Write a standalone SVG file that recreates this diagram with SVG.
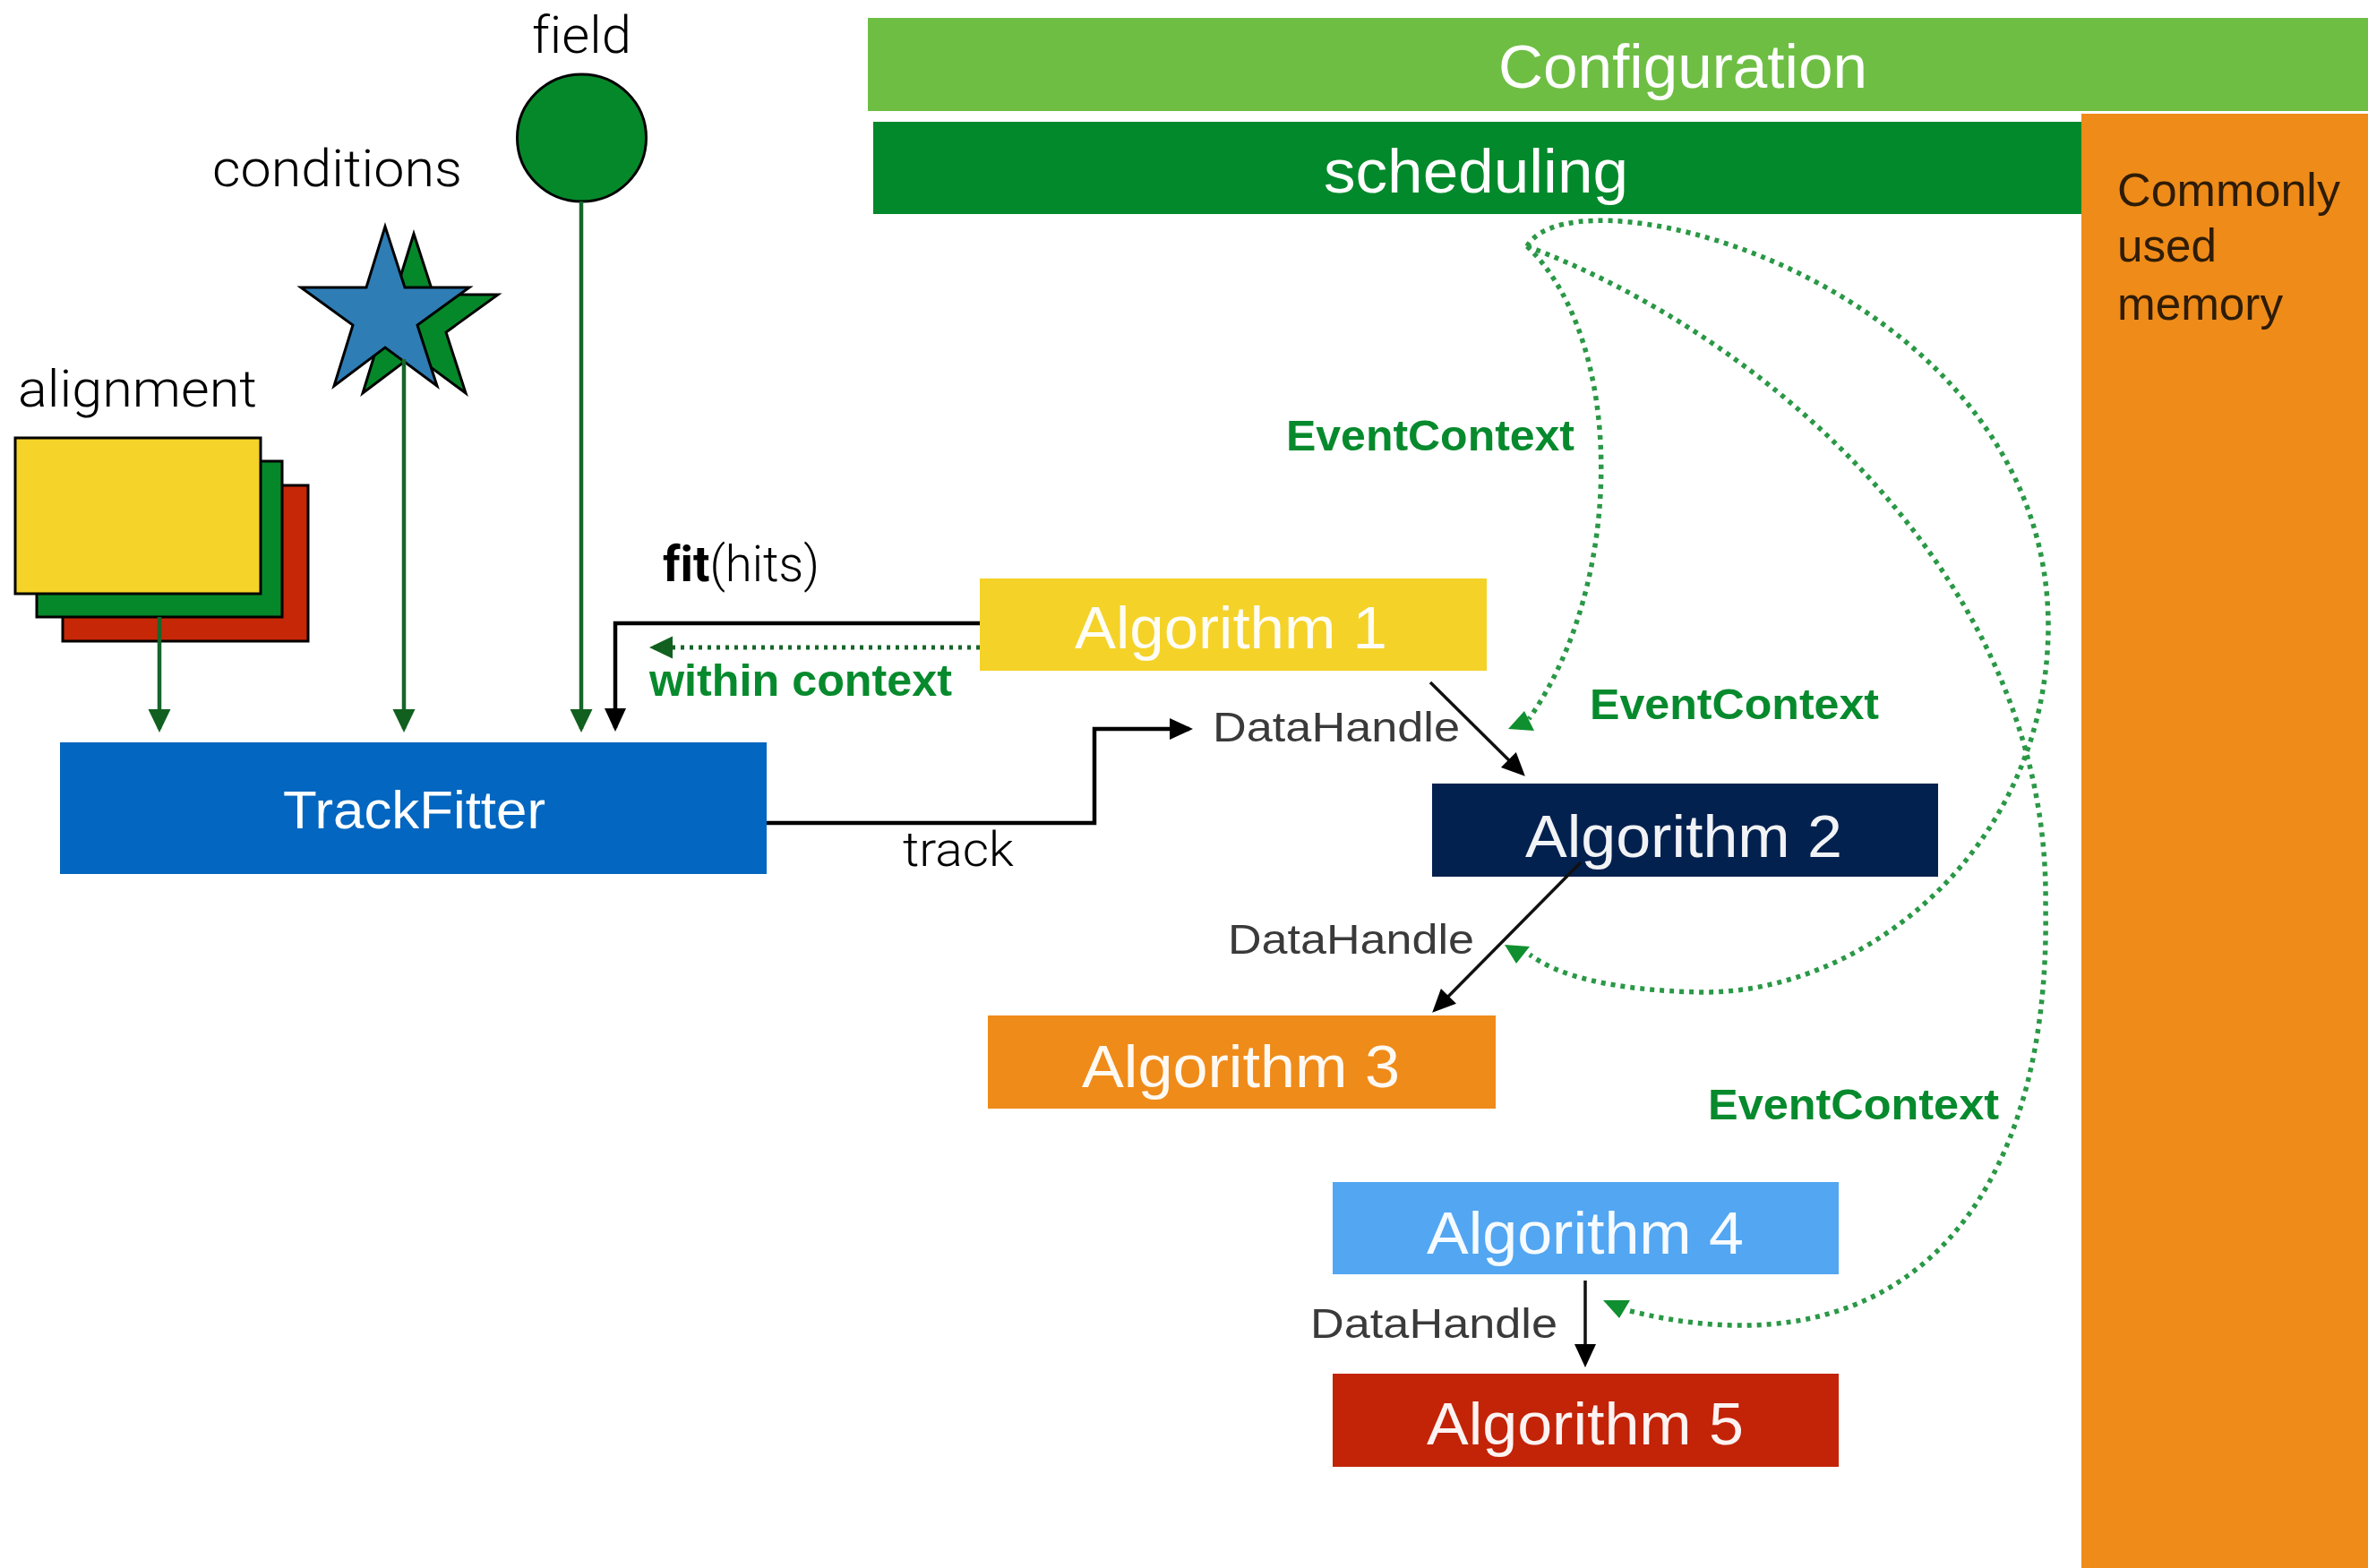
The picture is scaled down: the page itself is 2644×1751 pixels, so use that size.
<svg xmlns="http://www.w3.org/2000/svg" width="2644" height="1751" viewBox="0 0 2644 1751">
<style>
text{font-variant-ligatures:none}
.lt{font-family:Roboto,"Liberation Sans",sans-serif;font-weight:300;fill:#000}
.box{font-family:"Liberation Sans",Arial,sans-serif;fill:#fff}
.ec{font-family:"Liberation Sans",Arial,sans-serif;font-weight:bold;fill:#078A2D}
.dh{font-family:"Liberation Sans",Arial,sans-serif;fill:#3a3a3a;font-size:46px}
.alg{font-size:66px;fill:#fff;fill-opacity:0.95}
.gl{stroke:#17662A;stroke-width:4.5;fill:none}
.bl{stroke:#000;stroke-width:4.5;fill:none}
.bd{stroke:#111;stroke-width:3.5;fill:none}
.dot{stroke:#2A9846;stroke-width:5.5;fill:none;stroke-dasharray:5 6}
.gah{fill:#0F8F2F}
.shape{stroke:#000;stroke-width:3}
</style>
<defs>
<marker id="ab" markerUnits="userSpaceOnUse" markerWidth="26" markerHeight="26" viewBox="0 0 26 26" refX="22" refY="13" orient="auto"><path d="M0,1 L26,13 L0,25 z" fill="#000"/></marker>
<marker id="ag" markerUnits="userSpaceOnUse" markerWidth="26" markerHeight="26" viewBox="0 0 26 26" refX="22" refY="13" orient="auto"><path d="M0,0.5 L26,13 L0,25.5 z" fill="#12601F"/></marker>
</defs>
<rect width="2644" height="1751" fill="#fff"/>

<g id="configuration">
<rect x="969" y="20" width="1675" height="104" fill="#6EBE44"/>
<text class="box" x="1673" y="98" font-size="68" textLength="412" lengthAdjust="spacingAndGlyphs" fill="#EEF7EA">Configuration</text>
</g>
<g id="memory">
<rect x="2324" y="127" width="320" height="1624" fill="#EF8B19"/>
<text class="box" font-size="52" style="fill:#2E1C06"><tspan x="2364" y="230" textLength="249" lengthAdjust="spacingAndGlyphs">Commonly</tspan><tspan x="2364" y="292" textLength="111" lengthAdjust="spacingAndGlyphs">used</tspan><tspan x="2364" y="357" textLength="185" lengthAdjust="spacingAndGlyphs">memory</tspan></text>
</g>
<g id="scheduling">
<rect x="975" y="136" width="1349" height="103" fill="#02892B"/>
<text class="box" x="1478" y="215" font-size="68" textLength="340" lengthAdjust="spacingAndGlyphs" fill="#EEF7EA">scheduling</text>
</g>

<g id="alignment">
<text class="lt" x="20" y="454" font-size="58" textLength="267" lengthAdjust="spacingAndGlyphs">alignment</text>
<rect class="shape" x="70" y="542" width="274" height="174" fill="#C62707"/>
<rect class="shape" x="41" y="515" width="274" height="174" fill="#05882A"/>
<rect class="shape" x="17" y="489" width="274" height="174" fill="#F5D328"/>
</g>
<g id="conditions">
<text class="lt" x="237" y="208" font-size="58" textLength="279" lengthAdjust="spacingAndGlyphs">conditions</text>
<polygon class="shape" fill="#05882A" points="462,261 484,329 556,329 498,371 520,439 462,396 405,439 426,371 368,329 441,329"/>
<polygon class="shape" fill="#2F7DB5" points="430,253 452,321 524,321 466,363 488,431 430,388 373,431 394,363 336,321 409,321"/>
</g>
<g id="field">
<text class="lt" x="594" y="59" font-size="58" textLength="111" lengthAdjust="spacingAndGlyphs">field</text>
<ellipse class="shape" cx="649.5" cy="154" rx="72" ry="71" fill="#05882A"/>
</g>

<g id="trackfitter">
<rect x="67" y="829" width="789" height="147" fill="#0366C0"/>
<text class="box" x="316" y="925" font-size="60" textLength="293" lengthAdjust="spacingAndGlyphs">TrackFitter</text>
</g>

<g id="algorithm1">
<rect x="1094" y="646" width="566" height="103" fill="#F4D228"/>
<text class="box alg" x="1200" y="724" textLength="349" lengthAdjust="spacingAndGlyphs">Algorithm 1</text>
</g>
<g id="algorithm2">
<rect x="1599" y="875" width="565" height="104" fill="#03214F"/>
<text class="box alg" x="1703" y="957" textLength="354" lengthAdjust="spacingAndGlyphs">Algorithm 2</text>
</g>
<g id="algorithm3">
<rect x="1103" y="1134" width="567" height="104" fill="#EF8B19"/>
<text class="box alg" x="1208" y="1214" textLength="355" lengthAdjust="spacingAndGlyphs">Algorithm 3</text>
</g>
<g id="algorithm4">
<rect x="1488" y="1320" width="565" height="103" fill="#52A6F2"/>
<text class="box alg" x="1593" y="1400" textLength="354" lengthAdjust="spacingAndGlyphs">Algorithm 4</text>
</g>
<g id="algorithm5">
<rect x="1488" y="1534" width="565" height="104" fill="#C32306"/>
<text class="box alg" x="1593" y="1613" textLength="354" lengthAdjust="spacingAndGlyphs">Algorithm 5</text>
</g>

<g id="connectors">
<line class="gl" x1="178" y1="689" x2="178" y2="814" marker-end="url(#ag)"/>
<line class="gl" x1="451" y1="401" x2="451" y2="814" marker-end="url(#ag)"/>
<line class="gl" x1="649" y1="225" x2="649" y2="814" marker-end="url(#ag)"/>

<polyline class="bl" points="1094,696 687,696 687,813" marker-end="url(#ab)"/>
<line x1="1094" y1="723" x2="729" y2="723" stroke="#17662A" stroke-width="5" stroke-dasharray="4 6" marker-end="url(#ag)"/>
<text class="lt" x="740" y="649" font-size="55" textLength="175" lengthAdjust="spacingAndGlyphs"><tspan style="font-weight:bold">fit</tspan>(hits)</text>
<text class="ec" x="725" y="777" font-size="50" textLength="338" lengthAdjust="spacingAndGlyphs">within context</text>

<polyline class="bl" points="856,919 1222,919 1222,814 1328,814" marker-end="url(#ab)"/>
<text class="lt" x="1008" y="967" font-size="54" textLength="124" lengthAdjust="spacingAndGlyphs">track</text>

<line class="bd" x1="1597" y1="762" x2="1700" y2="864" marker-end="url(#ab)"/>
<text class="dh" x="1354" y="828" textLength="276" lengthAdjust="spacingAndGlyphs">DataHandle</text>
<line class="bd" x1="1765" y1="963" x2="1602" y2="1128" marker-end="url(#ab)"/>
<text class="dh" x="1371" y="1065" textLength="275" lengthAdjust="spacingAndGlyphs">DataHandle</text>
<line class="bd" x1="1770" y1="1430" x2="1770" y2="1523" marker-end="url(#ab)"/>
<text class="dh" x="1463" y="1494" textLength="276" lengthAdjust="spacingAndGlyphs">DataHandle</text>

<path class="dot" d="M1705,275 C1815,380 1815,650 1707,803"/>
<path class="dot" d="M1705,275 C1760,180 2290,320 2287,703 C2284,950 2080,1110 1900,1108 C1800,1106 1740,1090 1708,1066"/>
<path class="dot" d="M1705,275 C1960,370 2290,640 2284,1012 C2290,1340 2130,1540 1820,1464"/>
<polygon class="gah" points="1702,794 1684,814 1713,816"/>
<polygon class="gah" points="1680,1055 1708,1057 1693,1076"/>
<polygon class="gah" points="1790,1452 1820,1452 1808,1472"/>
<text class="ec" x="1436" y="503" font-size="48" textLength="322" lengthAdjust="spacingAndGlyphs">EventContext</text>
<text class="ec" x="1775" y="803" font-size="48" textLength="323" lengthAdjust="spacingAndGlyphs">EventContext</text>
<text class="ec" x="1907" y="1250" font-size="48" textLength="325" lengthAdjust="spacingAndGlyphs">EventContext</text>
</g>
</svg>
